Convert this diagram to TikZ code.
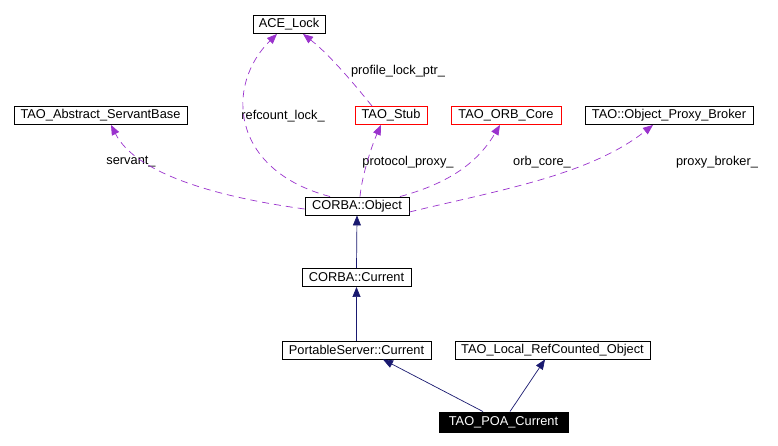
\documentclass[tikz,border=0pt]{standalone}
\usepackage{fontspec}
\setmainfont{Liberation Sans}
\usetikzlibrary{arrows.meta}
\definecolor{edgenavy}{HTML}{191970}
\definecolor{edgepurple}{HTML}{9A32CD}
\tikzset{
  cls/.style={draw=black, line width=0.9pt, rectangle, inner sep=0pt, minimum height=18pt, font=\fontsize{12.8}{15}\selectfont, text=black, fill=white},
  redcls/.style={cls, draw=red},
  hilite/.style={cls, fill=black, text=white, minimum height=20pt},
  lbl/.style={inner sep=0pt, font=\fontsize{12.8}{15}\selectfont, text=black},
  inh/.style={draw=edgenavy, line width=0.7pt, -{Triangle[length=10pt,width=8pt]}},
  dep/.style={draw=edgepurple, line width=0.7pt, dash pattern=on 7pt off 5pt, -{Triangle[length=10pt,width=8pt,fill=edgepurple]}}
}
\begin{document}
\begin{tikzpicture}[x=1pt,y=-1pt]
\useasboundingbox[fill=white] (0,0) rectangle (778,446);
% nodes
\node[cls, minimum width=72pt] (lock) at (289,24.5) {ACE\_Lock};
\node[cls, minimum width=173pt] (asb) at (100.5,115.5) {TAO\_Abstract\_ServantBase};
\node[redcls, minimum width=72pt] (stub) at (391,115.5) {TAO\_Stub};
\node[redcls, minimum width=110pt] (orb) at (506,115.5) {TAO\_ORB\_Core};
\node[cls, minimum width=168pt] (opb) at (669,115.5) {TAO::Object\_Proxy\_Broker};
\node[cls, minimum width=104pt] (obj) at (357,206) {CORBA::Object};
\node[cls, minimum width=109pt] (cur) at (356.5,277.5) {CORBA::Current};
\node[cls, minimum width=149pt] (psc) at (356.5,350) {PortableServer::Current};
\node[cls, minimum width=195pt] (lrc) at (552.5,350) {TAO\_Local\_RefCounted\_Object};
\node[hilite, minimum width=129pt] (poa) at (503.5,422) {TAO\_POA\_Current};
% labels
\node[lbl] (lservant) at (131,162) {servant\_};
\node[lbl] (lrefcount) at (283,116) {refcount\_lock\_};
\node[lbl] (lprofile) at (398,71) {profile\_lock\_ptr\_};
\node[lbl] (lprotocol) at (408,162) {protocol\_proxy\_};
\node[lbl] (lorb) at (542,162) {orb\_core\_};
\node[lbl] (lproxy) at (717,162) {proxy\_broker\_};
% inheritance
\draw[inh] (cur.north) -- (obj.south);
\draw[inh] (psc.north) -- (cur.south);
\draw[inh] ([xshift=-20.5pt]poa.north) -- ([xshift=26.5pt]psc.south);
\draw[inh] ([xshift=6.5pt]poa.north) -- ([xshift=-7.5pt]lrc.south);
% usage
\draw[dep] ([yshift=-3pt]obj.west) .. controls (210,196) and (135,172) .. ([xshift=10.5pt]asb.south);
\draw[dep] ([xshift=-27pt]obj.north) .. controls (230,170) and (225,85) .. ([xshift=-12pt]lock.south);
\draw[dep] ([xshift=-19pt]stub.north) .. controls (355,85) and (330,55) .. ([xshift=14pt]lock.south);
\draw[dep] ([xshift=3pt]obj.north) .. controls (362,175) and (372,145) .. ([xshift=-10pt]stub.south);
\draw[dep] ([xshift=43pt]obj.north) .. controls (450,183) and (478,162) .. ([xshift=-6pt]orb.south);
\draw[dep] ([yshift=-6pt]obj.east) .. controls (500,190) and (590,175) .. ([xshift=-16pt]opb.south);
\end{tikzpicture}
\end{document}
